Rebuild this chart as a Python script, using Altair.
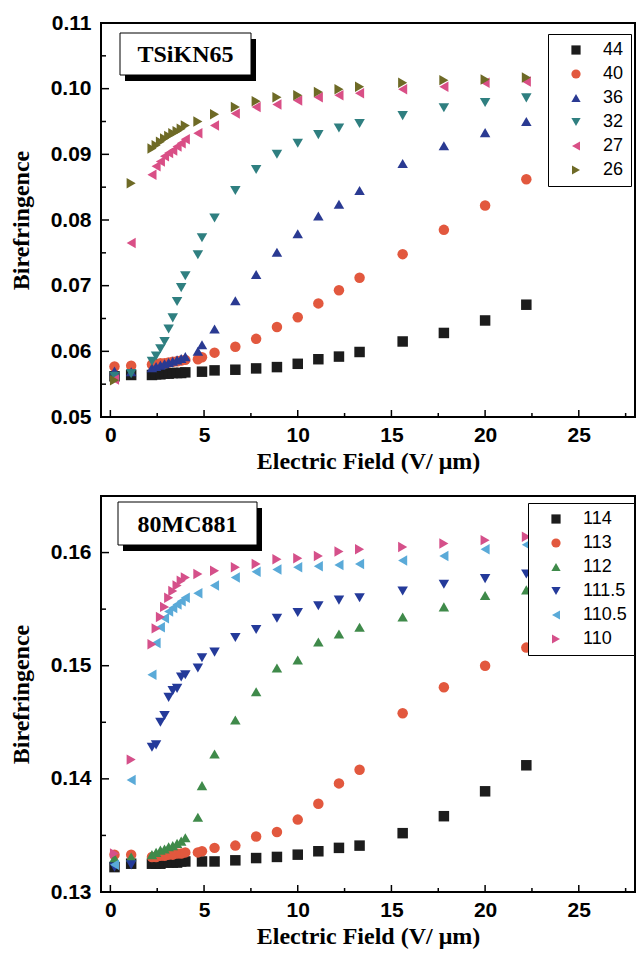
import altair as alt
import pandas as pd

# ---------------- data: top panel (TSiKN65) ----------------
TOP_SERIES = ["44", "40", "36", "32", "27", "26"]
TOP_COLORS = ["#1c1c1c", "#e2583e", "#2a3a92", "#2f7f80", "#d94f86", "#6e6a26"]
TOP_SHAPES = ["square", "circle", "triangle-up", "triangle-down", "triangle-left", "triangle-right"]

x44 = [0.22, 1.11, 2.22, 2.44, 2.67, 2.89, 3.11, 3.33, 3.56, 3.78, 4.0, 4.89, 5.56, 6.67, 7.78, 8.89, 10.0, 11.1, 12.2, 13.3, 15.6, 17.8, 20.0, 22.2]
y44 = [0.0562, 0.0564, 0.0564, 0.0565, 0.0565, 0.0566, 0.0566, 0.0567, 0.0567, 0.0567, 0.0568, 0.0569, 0.0571, 0.0572, 0.0574, 0.0576, 0.0581, 0.0588, 0.0592, 0.0599, 0.0615, 0.0628, 0.0647, 0.0671]
x40 = [0.22, 1.11, 2.22, 2.44, 2.67, 2.89, 3.11, 3.33, 3.56, 3.78, 4.0, 4.67, 4.89, 5.56, 6.67, 7.78, 8.89, 10.0, 11.1, 12.2, 13.3, 15.6, 17.8, 20.0, 22.2]
y40 = [0.0577, 0.0578, 0.0580, 0.0581, 0.0582, 0.0582, 0.0583, 0.0584, 0.0585, 0.0586, 0.0587, 0.0588, 0.0591, 0.0598, 0.0607, 0.0619, 0.0637, 0.0652, 0.0673, 0.0693, 0.0712, 0.0748, 0.0785, 0.0822, 0.0862]
x36 = [0.22, 1.11, 2.22, 2.44, 2.67, 2.89, 3.11, 3.33, 3.56, 3.78, 4.0, 4.67, 4.89, 5.56, 6.67, 7.78, 8.89, 10.0, 11.1, 12.2, 13.3, 15.6, 17.8, 20.0, 22.2]
y36 = [0.0570, 0.0569, 0.0575, 0.0577, 0.0579, 0.0581, 0.0583, 0.0585, 0.0587, 0.0589, 0.0592, 0.0600, 0.0610, 0.0634, 0.0677, 0.0717, 0.0751, 0.0779, 0.0806, 0.0824, 0.0845, 0.0886, 0.0913, 0.0933, 0.0950]
x32 = [0.22, 1.11, 2.22, 2.44, 2.67, 2.89, 3.11, 3.33, 3.56, 3.78, 4.0, 4.67, 4.89, 5.56, 6.67, 7.78, 8.89, 10.0, 11.1, 12.2, 13.3, 15.6, 17.8, 20.0, 22.2]
y32 = [0.0562, 0.0566, 0.0585, 0.0593, 0.0604, 0.0615, 0.0634, 0.0651, 0.0676, 0.0697, 0.0715, 0.0747, 0.0773, 0.0803, 0.0845, 0.0877, 0.0900, 0.0917, 0.0930, 0.0940, 0.0947, 0.0959, 0.0971, 0.0979, 0.0986]
x27 = [0.22, 1.11, 2.22, 2.44, 2.67, 2.89, 3.11, 3.33, 3.56, 3.78, 4.0, 4.67, 5.56, 6.67, 7.78, 8.89, 10.0, 11.1, 12.2, 13.3, 15.6, 17.8, 20.0, 22.2]
y27 = [0.0557, 0.0765, 0.0869, 0.0882, 0.0889, 0.0897, 0.0902, 0.0906, 0.0912, 0.0917, 0.0923, 0.0932, 0.0944, 0.0962, 0.0972, 0.0976, 0.0982, 0.0987, 0.0990, 0.0993, 0.0999, 0.1003, 0.1009, 0.1011]
x26 = [0.22, 1.11, 2.22, 2.44, 2.67, 2.89, 3.11, 3.33, 3.56, 3.78, 4.0, 4.67, 5.56, 6.67, 7.78, 8.89, 10.0, 11.1, 12.2, 13.3, 15.6, 17.8, 20.0, 22.2]
y26 = [0.0556, 0.0856, 0.0909, 0.0914, 0.0919, 0.0924, 0.0928, 0.0932, 0.0935, 0.0939, 0.0944, 0.0950, 0.0961, 0.0972, 0.0981, 0.0987, 0.0990, 0.0995, 0.0999, 0.1003, 0.1009, 0.1013, 0.1014, 0.1017]

# ---------------- data: bottom panel (80MC881) ----------------
BOT_SERIES = ["114", "113", "112", "111.5", "110.5", "110"]
BOT_COLORS = ["#1c1c1c", "#e2583e", "#3f8a4a", "#243a9a", "#5aaad8", "#d5508a"]
BOT_SHAPES = ["square", "circle", "triangle-up", "triangle-down", "triangle-left", "triangle-right"]

x114 = [0.22, 1.11, 2.22, 2.44, 2.67, 2.89, 3.11, 3.33, 3.56, 3.78, 4.0, 4.89, 5.56, 6.67, 7.78, 8.89, 10.0, 11.1, 12.2, 13.3, 15.6, 17.8, 20.0, 22.2]
y114 = [0.1322, 0.1325, 0.1325, 0.1325, 0.1325, 0.1326, 0.1326, 0.1326, 0.1326, 0.1327, 0.1327, 0.1327, 0.1327, 0.1328, 0.1330, 0.1331, 0.1333, 0.1336, 0.1339, 0.1341, 0.1352, 0.1367, 0.1389, 0.1412]
x113 = [0.22, 1.11, 2.22, 2.44, 2.67, 2.89, 3.11, 3.33, 3.56, 3.78, 4.0, 4.67, 4.89, 5.56, 6.67, 7.78, 8.89, 10.0, 11.1, 12.2, 13.3, 15.6, 17.8, 20.0, 22.2]
y113 = [0.1333, 0.1333, 0.1331, 0.1331, 0.1332, 0.1332, 0.1333, 0.1333, 0.1334, 0.1334, 0.1335, 0.1335, 0.1336, 0.1339, 0.1341, 0.1349, 0.1353, 0.1364, 0.1378, 0.1396, 0.1408, 0.1458, 0.1481, 0.1500, 0.1516]
x112 = [0.22, 1.11, 2.22, 2.44, 2.67, 2.89, 3.11, 3.33, 3.56, 3.78, 4.0, 4.67, 4.89, 5.56, 6.67, 7.78, 8.89, 10.0, 11.1, 12.2, 13.3, 15.6, 17.8, 20.0, 22.2]
y112 = [0.1330, 0.1331, 0.1333, 0.1335, 0.1337, 0.1338, 0.1340, 0.1341, 0.1343, 0.1345, 0.1348, 0.1366, 0.1394, 0.1422, 0.1452, 0.1477, 0.1498, 0.1505, 0.1521, 0.1528, 0.1534, 0.1543, 0.1552, 0.1562, 0.1567]
x1115 = [0.22, 1.11, 2.22, 2.44, 2.67, 2.89, 3.11, 3.33, 3.56, 3.78, 4.0, 4.67, 4.89, 5.56, 6.67, 7.78, 8.89, 10.0, 11.1, 12.2, 13.3, 15.6, 17.8, 20.0, 22.2]
y1115 = [0.1322, 0.1324, 0.1428, 0.1430, 0.1450, 0.1456, 0.1472, 0.1478, 0.1480, 0.1490, 0.1492, 0.1498, 0.1507, 0.1512, 0.1525, 0.1532, 0.1542, 0.1547, 0.1553, 0.1558, 0.1560, 0.1566, 0.1572, 0.1577, 0.1581]
x1105 = [0.22, 1.11, 2.22, 2.44, 2.67, 2.89, 3.11, 3.33, 3.56, 3.78, 4.0, 4.67, 5.56, 6.67, 7.78, 8.89, 10.0, 11.1, 12.2, 13.3, 15.6, 17.8, 20.0, 22.2]
y1105 = [0.1324, 0.1399, 0.1492, 0.1520, 0.1534, 0.1542, 0.1548, 0.1551, 0.1554, 0.1557, 0.1560, 0.1564, 0.1571, 0.1578, 0.1583, 0.1585, 0.1587, 0.1588, 0.1589, 0.1590, 0.1593, 0.1597, 0.1603, 0.1607]
x110 = [0.22, 1.11, 2.22, 2.44, 2.67, 2.89, 3.11, 3.33, 3.56, 3.78, 4.0, 4.67, 5.56, 6.67, 7.78, 8.89, 10.0, 11.1, 12.2, 13.3, 15.6, 17.8, 20.0, 22.2]
y110 = [0.1334, 0.1417, 0.1519, 0.1533, 0.1543, 0.1552, 0.1560, 0.1566, 0.1571, 0.1575, 0.1578, 0.1581, 0.1584, 0.1587, 0.1590, 0.1594, 0.1595, 0.1597, 0.1601, 0.1603, 0.1605, 0.1608, 0.1611, 0.1614]

# axis ticks
X_MAJOR = [0, 5, 10, 15, 20, 25]
X_MINOR = [2.5, 7.5, 12.5, 17.5, 22.5, 27.5]
TOP_Y_MAJOR = [0.05, 0.06, 0.07, 0.08, 0.09, 0.10, 0.11]
TOP_Y_MINOR = [0.055, 0.065, 0.075, 0.085, 0.095, 0.105]
BOT_Y_MAJOR = [0.13, 0.14, 0.15, 0.16]
BOT_Y_MINOR = [0.135, 0.145, 0.155]

W = 534
XTITLE = "Electric Field (V/ \u03bcm)"
YTITLE = "Birefringence"


def make_df(names, xs, ys):
    rows = []
    for n, xv, yv in zip(names, xs, ys):
        for a, b in zip(xv, yv):
            rows.append({"series": n, "E": a, "B": b})
    return pd.DataFrame(rows)


def panel(df, names, colors, shapes, ydom, ymaj, ymin_, ylabfmt, H, label, box, leg):
    xs = alt.Scale(domain=[-0.5, 28], nice=False, zero=False)
    ys = alt.Scale(domain=ydom, nice=False, zero=False)
    xaxis = alt.Axis(values=X_MAJOR, title=XTITLE, format="d")
    yaxis = alt.Axis(values=ymaj, title=YTITLE, format=ylabfmt)
    legend = alt.Legend(
        orient="none", legendX=leg[0], legendY=leg[1],
        fillColor="white", strokeColor="black", padding=7,
        labelFont="Liberation Sans", labelFontSize=18, labelColor="black",
        symbolSize=85, rowPadding=6, symbolOffset=12, labelOffset=18,
        symbolStrokeWidth=0,
    )
    pts = alt.Chart(df).mark_point(filled=True, size=110, opacity=1).encode(
        x=alt.X("E:Q", scale=xs, axis=xaxis),
        y=alt.Y("B:Q", scale=ys, axis=yaxis),
        color=alt.Color("series:N", scale=alt.Scale(domain=names, range=colors), title=None, legend=legend),
        shape=alt.Shape("series:N", scale=alt.Scale(domain=names, range=shapes), title=None, legend=legend),
    )
    xmaj = alt.Chart(pd.DataFrame({"E": X_MAJOR})).mark_rule(color="black", strokeWidth=1.5).encode(
        x=alt.X("E:Q", scale=xs, axis=xaxis), y=alt.value(H), y2=alt.value(H - 7))
    xmin = alt.Chart(pd.DataFrame({"E": X_MINOR})).mark_rule(color="black", strokeWidth=1.5).encode(
        x=alt.X("E:Q", scale=xs, axis=xaxis), y=alt.value(H), y2=alt.value(H - 4))
    ymj = alt.Chart(pd.DataFrame({"B": ymaj})).mark_rule(color="black", strokeWidth=1.5).encode(
        y=alt.Y("B:Q", scale=ys, axis=yaxis), x=alt.value(0), x2=alt.value(8))
    ymn = alt.Chart(pd.DataFrame({"B": ymin_})).mark_rule(color="black", strokeWidth=1.5).encode(
        y=alt.Y("B:Q", scale=ys, axis=yaxis), x=alt.value(0), x2=alt.value(5))
    one = pd.DataFrame({"t": [label]})
    bx0, by0, bx1, by1 = box
    shadow = alt.Chart(one).mark_rect(color="black").encode(
        x=alt.value(bx0 + 5), x2=alt.value(bx1 + 5), y=alt.value(by0 + 6), y2=alt.value(by1 + 6))
    frame = alt.Chart(one).mark_rect(fill="white", stroke="black", strokeWidth=1).encode(
        x=alt.value(bx0), x2=alt.value(bx1), y=alt.value(by0), y2=alt.value(by1))
    txt = alt.Chart(one).mark_text(font="Liberation Serif", fontWeight="bold", fontSize=24,
                                   color="black", baseline="middle", align="center").encode(
        x=alt.value((bx0 + bx1) / 2), y=alt.value((by0 + by1) / 2 + 1), text="t:N")
    return alt.layer(xmaj, xmin, ymj, ymn, pts, shadow, frame, txt).properties(width=W, height=H)


top_df = make_df(TOP_SERIES, [x44, x40, x36, x32, x27, x26], [y44, y40, y36, y32, y27, y26])
bot_df = make_df(BOT_SERIES, [x114, x113, x112, x1115, x1105, x110], [y114, y113, y112, y1115, y1105, y110])

top = panel(top_df, TOP_SERIES, TOP_COLORS, TOP_SHAPES, [0.05, 0.11], TOP_Y_MAJOR, TOP_Y_MINOR, ".2f",
            394, "TSiKN65", (19, 10, 150, 52), (447, 11))
bot = panel(bot_df, BOT_SERIES, BOT_COLORS, BOT_SHAPES, [0.13, 0.165], BOT_Y_MAJOR, BOT_Y_MINOR, ".2f",
            396, "80MC881", (17, 6, 156, 49), (427, 7))

chart = alt.vconcat(top, bot, spacing=21).resolve_scale(
    color="independent", shape="independent", x="independent", y="independent"
).resolve_legend(color="independent", shape="independent").properties(
    padding={"left": 8, "top": 11, "right": 2, "bottom": 0}
).configure_view(stroke="black", strokeWidth=2).configure_axis(
    labelFont="Liberation Sans", labelFontWeight="bold", labelFontSize=21, labelColor="black",
    titleFont="Liberation Serif", titleFontWeight="bold", titleFontSize=24, titleColor="black",
    ticks=False, domain=False, grid=False,
).configure_axisX(labelPadding=7, titlePadding=4).configure_axisY(labelPadding=10, titlePadding=17)

chart.save("out.html", embed_options={"renderer": "svg", "actions": False})
